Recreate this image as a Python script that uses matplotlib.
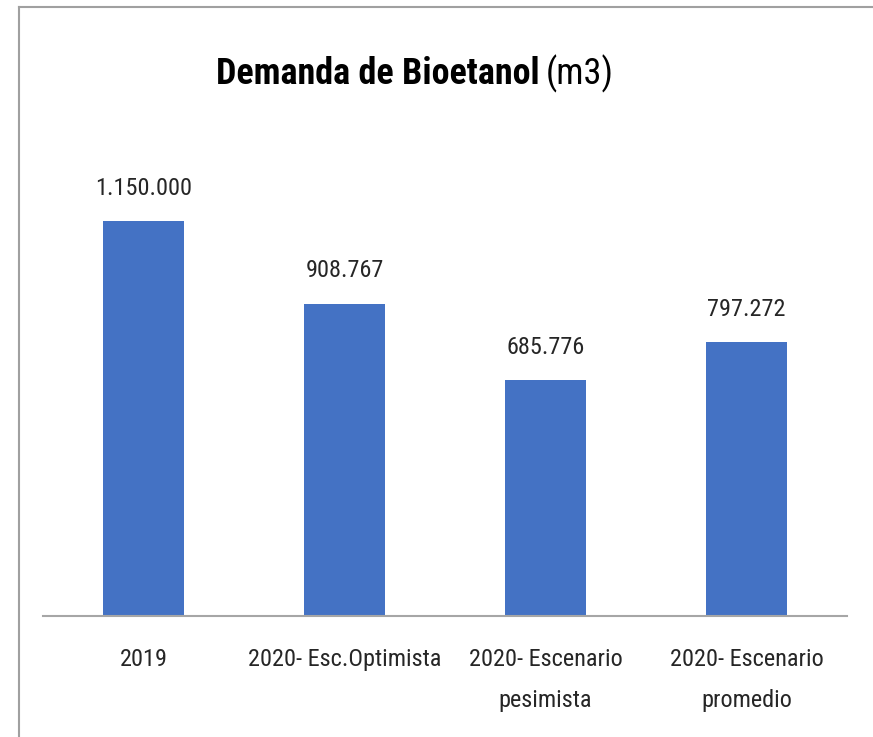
import matplotlib
matplotlib.use("Agg")
import matplotlib.pyplot as plt
from matplotlib.lines import Line2D

# datos
categorias = ["2019", "2020- Esc.Optimista", "2020- Escenario\npesimista", "2020- Escenario\npromedio"]
demanda = [1150000, 908767, 685776, 797272]
etiquetas = ["1.150.000", "908.767", "685.776", "797.272"]

plt.rcParams["font.family"] = ["Roboto Condensed", "DejaVu Sans"]

W, H = 873, 737
fig = plt.figure(figsize=(W / 100, H / 100), dpi=100)
# area del grafico en pixeles
x0, x1 = 43, 847
yb = 616
ymax = 1400000
alto = ymax / 1000000 * 343.5
ax = fig.add_axes([x0 / W, (H - yb) / H, (x1 - x0) / W, alto / H])

x = range(len(categorias))
ax.bar(x, demanda, width=0.40, color="#4472C4")
for xi, v, t in zip(x, demanda, etiquetas):
    ax.annotate(t, (xi, v), xytext=(0, 19), textcoords="offset points",
                ha="center", va="baseline", fontsize=17.5, color="#262626")

ax.set_xlim(-0.5, 3.5)
ax.set_ylim(0, ymax)
ax.set_yticks([])
ax.set_xticks(list(x))
ax.set_xticklabels(categorias, fontsize=17.5, color="#262626", linespacing=2.0)
ax.tick_params(axis="x", length=0, pad=23)
for s in ["top", "right", "left"]:
    ax.spines[s].set_visible(False)
ax.spines["bottom"].set_color("#a6a6a6")
ax.spines["bottom"].set_linewidth(1.5)

# titulo
t1 = fig.text(216 / W, 1 - 84 / H, "Demanda de Bioetanol", ha="left", va="baseline",
              fontsize=26, fontweight="bold", color="black")
fig.canvas.draw()
bb = t1.get_window_extent()
fig.text((bb.x1 + 6) / W, 1 - 84 / H, "(m3)", ha="left", va="baseline", fontsize=26, color="black")

# borde
fig.add_artist(Line2D([19 / W, 19 / W], [0, 1 - 7 / H], color="#a0a0a0", lw=1.5))
fig.add_artist(Line2D([19 / W, 1], [1 - 7 / H, 1 - 7 / H], color="#a0a0a0", lw=1.5))

fig.savefig("out.png", dpi=100)
